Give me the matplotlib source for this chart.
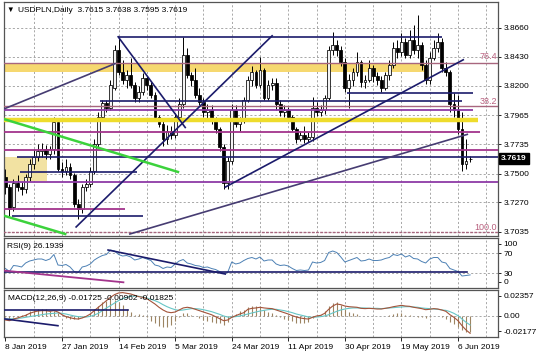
import matplotlib
matplotlib.use('Agg')
import matplotlib.pyplot as plt
import matplotlib.transforms as mtransforms
import numpy as np

plt.rcParams['font.family'] = ['Liberation Sans', 'DejaVu Sans']

# ---------------- text ----------------
symbol_title = "USDPLN,Daily  3.7615 3.7638 3.7595 3.7619"
rsi_title = "RSI(9) 26.1939"
macd_title = "MACD(12,26,9) -0.01725 -0.00962 -0.01825"
last_price = 3.7619
last_price_label = "3.7619"

# ---------------- OHLC (daily bars) ----------------
opens = [3.7471,3.7392,3.7233,3.7424,3.7392,3.7376,3.7471,3.7574,3.7630,3.7677,
         3.7693,3.7653,3.7693,3.7907,3.7534,3.7519,3.7550,3.7487,3.7257,3.7217,
         3.7392,3.7416,3.7519,3.7733,3.7947,3.8058,3.8026,3.8184,3.8486,3.8311,
         3.8248,3.8287,3.8208,3.8105,3.8153,3.8264,3.8208,3.8129,3.7947,3.7891,
         3.7772,3.7836,3.7804,3.7947,3.8050,3.8446,3.8287,3.8248,3.8129,3.8066,
         3.7994,3.8010,3.7915,3.7851,3.7709,3.7424,3.7598,3.8010,3.7891,3.7915,
         3.8089,3.8248,3.8311,3.8208,3.8327,3.8105,3.8208,3.8224,3.8050,3.7994,
         3.8010,3.7947,3.7851,3.7772,3.7804,3.7772,3.7788,3.8026,3.7994,3.8010,
         3.8105,3.8486,3.8525,3.8486,3.8391,3.8184,3.8248,3.8311,3.8391,3.8232,
         3.8248,3.8343,3.8280,3.8248,3.8184,3.8287,3.8367,3.8502,3.8470,3.8549,
         3.8446,3.8565,3.8486,3.8525,3.8367,3.8248,3.8422,3.8502,3.8549,3.8343,
         3.8311,3.8050,3.8010,3.7851,3.7574,3.7615]
highs = [3.7534,3.7416,3.7455,3.7487,3.7431,3.7495,3.7614,3.7693,3.7733,3.7740,
         3.7725,3.7717,3.7947,3.7931,3.7590,3.7614,3.7582,3.7503,3.7297,3.7416,
         3.7455,3.7550,3.7772,3.7994,3.8089,3.8089,3.8248,3.8525,3.8589,3.8406,
         3.8327,3.8422,3.8232,3.8200,3.8303,3.8280,3.8232,3.8153,3.7970,3.7931,
         3.7883,3.7875,3.7986,3.8105,3.8589,3.8502,3.8311,3.8343,3.8184,3.8105,
         3.8050,3.8042,3.7947,3.7867,3.7733,3.7630,3.8050,3.8042,3.7947,3.8113,
         3.8280,3.8359,3.8327,3.8430,3.8343,3.8248,3.8264,3.8264,3.8089,3.8042,
         3.8034,3.7970,3.7867,3.7836,3.7875,3.7828,3.8113,3.8066,3.8042,3.8129,
         3.8517,3.8628,3.8565,3.8517,3.8422,3.8295,3.8343,3.8470,3.8406,3.8287,
         3.8406,3.8367,3.8311,3.8280,3.8311,3.8406,3.8549,3.8565,3.8620,3.8581,
         3.8644,3.8684,3.8763,3.8549,3.8406,3.8470,3.8565,3.8620,3.8581,3.8391,
         3.8327,3.8145,3.8129,3.7994,3.7772,3.7638]
lows = [3.7336,3.7162,3.7201,3.7360,3.7328,3.7344,3.7439,3.7534,3.7598,3.7630,
        3.7614,3.7614,3.7653,3.7519,3.7471,3.7487,3.7455,3.7233,3.7138,3.7186,
        3.7360,3.7392,3.7495,3.7709,3.7915,3.7994,3.8010,3.8169,3.8287,3.8216,
        3.8184,3.8184,3.8073,3.8073,3.8129,3.8169,3.8105,3.7915,3.7867,3.7717,
        3.7733,3.7772,3.7780,3.7923,3.8026,3.8264,3.8200,3.8105,3.8042,3.7947,
        3.7931,3.7891,3.7820,3.7677,3.7376,3.7376,3.7574,3.7867,3.7836,3.7899,
        3.8066,3.8200,3.8184,3.8184,3.8089,3.8089,3.8169,3.8010,3.7962,3.7947,
        3.7923,3.7836,3.7740,3.7756,3.7740,3.7748,3.7756,3.7962,3.7962,3.7978,
        3.8089,3.8446,3.8438,3.8359,3.8153,3.8026,3.8200,3.8280,3.8192,3.8184,
        3.8232,3.8232,3.8208,3.8153,3.8169,3.8248,3.8343,3.8422,3.8438,3.8422,
        3.8422,3.8454,3.8422,3.8327,3.8216,3.8216,3.8406,3.8470,3.8311,3.8280,
        3.7994,3.7947,3.7812,3.7519,3.7534,3.7595]
closes = [3.7392,3.7217,3.7424,3.7392,3.7376,3.7471,3.7574,3.7630,3.7677,3.7693,
          3.7653,3.7693,3.7907,3.7534,3.7519,3.7550,3.7487,3.7257,3.7217,3.7392,
          3.7416,3.7519,3.7733,3.7947,3.8058,3.8026,3.8208,3.8486,3.8311,3.8248,
          3.8287,3.8208,3.8105,3.8153,3.8264,3.8208,3.8129,3.7947,3.7891,3.7772,
          3.7836,3.7804,3.7947,3.8050,3.8446,3.8287,3.8248,3.8129,3.8066,3.7994,
          3.8010,3.7915,3.7851,3.7709,3.7424,3.7598,3.8010,3.7891,3.7915,3.8089,
          3.8248,3.8311,3.8208,3.8327,3.8105,3.8208,3.8224,3.8050,3.7994,3.8010,
          3.7947,3.7851,3.7772,3.7804,3.7772,3.7788,3.8026,3.7994,3.8010,3.8105,
          3.8486,3.8525,3.8486,3.8391,3.8184,3.8248,3.8311,3.8391,3.8232,3.8248,
          3.8343,3.8280,3.8248,3.8184,3.8287,3.8367,3.8502,3.8470,3.8549,3.8446,
          3.8565,3.8486,3.8525,3.8367,3.8248,3.8422,3.8502,3.8549,3.8343,3.8311,
          3.8050,3.8010,3.7851,3.7574,3.7598,3.7619]

# ---------------- RSI(9) ----------------
rsi_values = [39,33,45,44,42,50,54,56,58,58,
              55,58,67,46,45,47,42,33,31,42,
              44,48,56,61,65,67,76,74,67,64,
              65,62,56,58,61,58,55,46,44,39,
              42,41,48,54,57,50,48,45,44,41,
              42,39,37,33,29,31,52,48,50,55,
              59,61,58,62,54,56,56,48,45,46,
              44,39,35,36,35,36,52,50,51,55,
              71,74,71,62,52,55,58,61,54,55,
              58,55,55,56,59,61,67,65,68,62,
              65,59,58,53,50,58,61,61,52,50,
              39,36,33,24,25,26.19]

# ---------------- MACD(12,26,9) ----------------
macd_hist = [-0.0017,-0.0031,-0.0014,-0.0010,0.0010,0.0017,0.0045,0.0059,0.0069,0.0073,
             0.0066,0.0052,0.0052,0.0031,-0.0003,-0.0024,-0.0031,-0.0038,-0.0031,-0.0017,
             -0.0003,0.0031,0.0069,0.0104,0.0138,0.0156,0.0173,0.0163,0.0138,0.0114,
             0.0069,0.0035,0.0010,0.0017,0.0003,-0.0010,-0.0052,-0.0080,-0.0107,-0.0121,
             -0.0114,-0.0093,-0.0059,-0.0010,0.0031,0.0024,0.0010,-0.0003,-0.0024,-0.0045,
             -0.0059,-0.0066,-0.0073,-0.0080,-0.0093,-0.0069,-0.0010,0.0017,0.0045,0.0059,
             0.0093,0.0100,0.0100,0.0087,0.0059,0.0038,0.0024,0.0010,-0.0017,-0.0031,
             -0.0045,-0.0059,-0.0073,-0.0080,-0.0080,-0.0066,-0.0024,-0.0003,0.0010,0.0045,
             0.0100,0.0128,0.0138,0.0114,0.0073,0.0038,0.0024,0.0014,0.0000,-0.0003,
             0.0000,-0.0003,-0.0007,-0.0007,0.0000,0.0007,0.0017,0.0024,0.0028,0.0010,
             0.0007,-0.0007,-0.0014,-0.0017,-0.0024,-0.0010,-0.0003,-0.0007,-0.0014,-0.0031,
             -0.0066,-0.0087,-0.0114,-0.0149,-0.0166,-0.01725]
macd_line = [-0.0045,-0.0052,-0.0035,-0.0024,-0.0010,0.0003,0.0024,0.0038,0.0048,0.0052,
             0.0052,0.0045,0.0052,0.0038,0.0010,-0.0010,-0.0021,-0.0031,-0.0035,-0.0024,
             -0.0007,0.0017,0.0052,0.0087,0.0121,0.0156,0.0190,0.0218,0.0235,0.0239,
             0.0232,0.0225,0.0211,0.0197,0.0190,0.0176,0.0149,0.0121,0.0087,0.0059,
             0.0038,0.0031,0.0038,0.0059,0.0080,0.0087,0.0080,0.0066,0.0052,0.0038,
             0.0024,0.0010,-0.0010,-0.0031,-0.0052,-0.0045,-0.0017,0.0000,0.0017,0.0031,
             0.0066,0.0076,0.0080,0.0087,0.0080,0.0076,0.0073,0.0059,0.0045,0.0031,
             0.0017,0.0000,-0.0014,-0.0024,-0.0031,-0.0035,-0.0017,-0.0003,0.0003,0.0024,
             0.0066,0.0100,0.0121,0.0114,0.0100,0.0093,0.0090,0.0087,0.0076,0.0073,
             0.0076,0.0073,0.0069,0.0069,0.0076,0.0083,0.0093,0.0100,0.0107,0.0100,
             0.0097,0.0087,0.0080,0.0073,0.0062,0.0066,0.0073,0.0069,0.0059,0.0045,
             0.0010,-0.0017,-0.0052,-0.0104,-0.0149,-0.01825]
macd_signal = [-0.0035,-0.0035,-0.0031,-0.0028,-0.0024,-0.0017,-0.0010,-0.0003,0.0003,0.0010,
               0.0017,0.0021,0.0024,0.0028,0.0024,0.0017,0.0007,-0.0003,-0.0010,-0.0014,
               -0.0014,-0.0007,0.0007,0.0024,0.0052,0.0080,0.0104,0.0131,0.0156,0.0176,
               0.0190,0.0201,0.0204,0.0201,0.0194,0.0183,0.0170,0.0156,0.0138,0.0114,
               0.0093,0.0076,0.0062,0.0055,0.0059,0.0066,0.0073,0.0073,0.0069,0.0062,
               0.0052,0.0042,0.0028,0.0014,-0.0003,-0.0014,-0.0014,-0.0010,-0.0003,0.0007,
               0.0017,0.0028,0.0038,0.0048,0.0055,0.0062,0.0066,0.0066,0.0059,0.0052,
               0.0042,0.0031,0.0017,0.0007,-0.0003,-0.0014,-0.0017,-0.0014,-0.0010,-0.0003,
               0.0010,0.0028,0.0045,0.0059,0.0069,0.0076,0.0080,0.0080,0.0080,0.0080,
               0.0076,0.0076,0.0076,0.0073,0.0076,0.0080,0.0083,0.0087,0.0090,0.0093,
               0.0093,0.0090,0.0087,0.0080,0.0076,0.0073,0.0069,0.0066,0.0059,0.0055,
               0.0042,0.0024,0.0000,-0.0035,-0.0069,-0.00962]

# ---------------- axis labels ----------------
date_labels = ['8 Jan 2019', '27 Jan 2019', '14 Feb 2019', '5 Mar 2019', '24 Mar 2019',
               '11 Apr 2019', '30 Apr 2019', '19 May 2019', '6 Jun 2019']
date_bars = [0, 14, 28, 42, 56, 70, 84, 98, 112]
price_ticks = [3.8660, 3.8430, 3.8200, 3.7965, 3.7735, 3.7500, 3.7270, 3.7035]
price_tick_labels = ['3.8660', '3.8430', '3.8200', '3.7965', '3.7735', '3.7500', '3.7270', '3.7035']
rsi_label_values = ['100', '70', '30', '0']
macd_label_values = ['0.02357', '0.00', '-0.02177']

# ---------------- drawn objects (anchors: bar index, price) ----------------
hl_price = [3.8589, 3.8383, 3.8145, 3.8081, 3.8038, 3.8006, 3.7927, 3.7828,
            3.7685, 3.7634, 3.7513, 3.7432, 3.7217, 3.7162, 3.7035]
hl_start = [27.9, -0.5, 84.5, 23.4, -0.5, -0.5, -0.5, -0.5,
            -0.5, 2.9, 3.6, -0.5, -0.5, 1.6, -0.5]
hl_end = [108.1, 122.0, 115.7, 113.0, 122.0, 115.7, 117.0, 117.5,
          122.0, 122.0, 32.6, 122.0, 29.6, 34.0, 122.0]
hl_kind = ['navy', 'fib', 'navy', 'navy', 'fib', 'purple', 'yellow', 'magenta',
           'magenta', 'navy', 'navy', 'purple', 'magenta', 'navy', 'fibdot']

tl_x0 = [-0.1, 27.9, 17.5, 54.4, 30.8, -0.1, -0.1]
tl_p0 = [3.8018, 3.8589, 3.7075, 3.7392, 3.7019, 3.7931, 3.7162]
tl_x1 = [27.1, 44.5, 66.0, 113.3, 114.3, 42.7, 14.8]
tl_p1 = [3.8375, 3.7867, 3.8597, 3.8406, 3.7812, 3.7513, 3.7019]
tl_kind = ['slate', 'navy', 'navy', 'navy', 'slate', 'green', 'green']

band_x = [-0.5, 103.9]
band_p = [3.8311, 3.8383]
box_x = [-0.1, 10.3]
box_p = [3.7439, 3.7630]

fib_text = ['76.4', '38.2', '100.0']
fib_text_price = [3.8430, 3.8073, 3.7074]

rsi_hl_level = 32.6
rsi_hl_span = [-0.5, 114.3]
rsi_tl = [(25.4, 76.0, 54.4, 28.0, 'navy'), (-0.1, 34.6, 29.2, 11.4, 'magenta')]
macd_hl_level = 0.0059
macd_hl_span = [-0.1, 30.3]
macd_tl = [(-0.1, -0.0034, 13.0, -0.0104, 'navy')]

# ---------------- styles ----------------
style = {
    'navy':    dict(color='#1b1b6b', lw=1.2),
    'slate':   dict(color='#463c72', lw=1.2),
    'fib':     dict(color='#a8667e', lw=1.0),
    'fibdot':  dict(color='#a8667e', lw=1.0, ls=(0, (2, 1))),
    'purple':  dict(color='#8e3aa6', lw=1.3),
    'magenta': dict(color='#a3348c', lw=1.3),
    'yellow':  dict(color='#eedc2c', lw=3.2),
    'green':   dict(color='#3cd23c', lw=1.8),
}
grid_kw = dict(color='#9a9a9a', lw=0.6, ls=(0, (2.5, 2.5)))
spine_color = '#555555'

W, H = 536, 358
fig = plt.figure(figsize=(W / 100, H / 100), dpi=100)
fig.patch.set_facecolor('white')


def panel(top, bottom):
    a = fig.add_axes([4 / W, 1 - bottom / H, 494 / W, (bottom - top) / H])
    a.set_facecolor('white')
    for s in a.spines.values():
        s.set_color(spine_color)
        s.set_linewidth(0.9)
    a.set_xlim(-0.35, 121.9)
    a.yaxis.tick_right()
    a.tick_params(axis='y', labelsize=6, length=2, pad=2, colors='black', width=0.6)
    a.tick_params(axis='x', bottom=False, labelbottom=False)
    for k in range(1, 18):
        a.axvline(7 * k, zorder=0.5, **grid_kw)
    return a


ax = panel(2, 236)
axr = panel(238, 288)
axm = panel(290, 337)

n = len(closes)
x = np.arange(n)
o = np.array(opens); h = np.array(highs); l = np.array(lows); c = np.array(closes)

# main panel
ax.set_ylim(3.7003, 3.8866)
ax.set_yticks(price_ticks)
ax.set_yticklabels(price_tick_labels)
for p in price_ticks:
    ax.axhline(p, zorder=0.5, **grid_kw)

ax.fill_between(band_x, band_p[0], band_p[1], color='#f6d870', zorder=1, lw=0)
ax.fill_between(box_x, box_p[0], box_p[1], color='#f2e2a2', zorder=1, lw=0)

bull = c >= o
ax.vlines(x, l, h, color='black', lw=0.7, zorder=2)
body_lo = np.minimum(o, c)
body_h = np.maximum(np.abs(c - o), 0.0004)
ax.bar(x[bull], body_h[bull], bottom=body_lo[bull], width=0.7,
       color='#f4f4f4', edgecolor='black', lw=0.55, zorder=2.5)
ax.bar(x[~bull], body_h[~bull], bottom=body_lo[~bull], width=0.7,
       color='black', edgecolor='black', lw=0.55, zorder=2.5)

for p, s0, s1, k in zip(hl_price, hl_start, hl_end, hl_kind):
    ax.plot([s0, s1], [p, p], zorder=3, solid_capstyle='butt', **style[k])
for x0, p0, x1, p1, k in zip(tl_x0, tl_p0, tl_x1, tl_p1, tl_kind):
    ax.plot([x0, x1], [p0, p1], zorder=3.2, **style[k])

for t, p in zip(fib_text, fib_text_price):
    ax.text(121.6, p, t, color='#b8607e', fontsize=6.5, ha='right', va='center', zorder=4)

trans = mtransforms.blended_transform_factory(ax.transAxes, ax.transData)
ax.text(1.0 + 3 / 494, last_price, last_price_label, transform=trans, color='white',
        fontsize=6, fontweight='bold', ha='left', va='center', zorder=5, clip_on=False,
        bbox=dict(boxstyle='square,pad=0.25', fc='black', ec='black'))

# RSI panel
axr.set_ylim(0, 100)
axr.set_yticks([88, 70, 30, 12])
axr.set_yticklabels(rsi_label_values)
for lv in (30, 70):
    axr.axhline(lv, zorder=0.5, **grid_kw)
axr.plot([rsi_hl_span[0], rsi_hl_span[1]], [rsi_hl_level, rsi_hl_level], zorder=3, **style['navy'])
for x0, v0, x1, v1, k in rsi_tl:
    axr.plot([x0, x1], [v0, v1], zorder=3, **style[k])
axr.plot(x, rsi_values, color='#4c80b4', lw=0.7, zorder=2.5)

# MACD panel
axm.set_ylim(-0.0221, 0.0266)
axm.set_yticks([0.0204, 0.0, -0.0159])
axm.set_yticklabels(macd_label_values)
axm.axhline(0, zorder=0.5, **grid_kw)
axm.vlines(x, 0, macd_hist, color='#9c8462', lw=0.8, zorder=2)
axm.plot(x, macd_signal, color='#66c6c6', lw=0.8, zorder=2.6)
axm.plot(x, macd_line, color='#a3533a', lw=0.8, zorder=2.7)
axm.plot(macd_hl_span, [macd_hl_level, macd_hl_level], zorder=3, **style['navy'])
for x0, v0, x1, v1, k in macd_tl:
    axm.plot([x0, x1], [v0, v1], zorder=3, **style[k])

axm.set_xticks(date_bars)
axm.set_xticklabels(date_labels)
axm.tick_params(axis='x', bottom=True, labelbottom=True, labelsize=6, length=3,
                pad=2, width=0.6)
for lab in axm.get_xticklabels():
    lab.set_ha('left')

# titles
fig.text(6 / W, 1 - 10 / H, '\u25bc', fontsize=5.5, va='center', ha='left')
fig.text(18 / W, 1 - 10 / H, symbol_title, fontsize=6, va='center', ha='left')
fig.text(7 / W, 1 - 246 / H, rsi_title, fontsize=6, va='center', ha='left')
fig.text(8 / W, 1 - 298 / H, macd_title, fontsize=6, va='center', ha='left')

fig.savefig('out.png', dpi=100, facecolor='white')
